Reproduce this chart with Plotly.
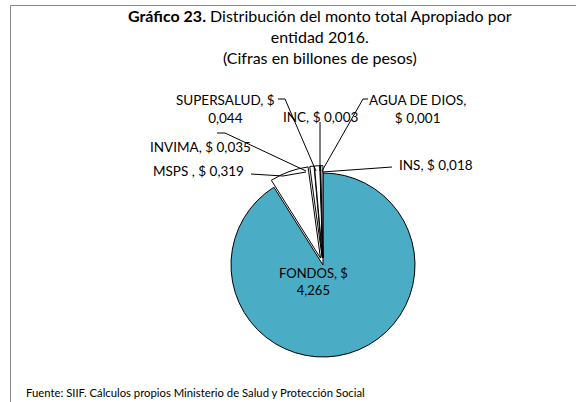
import plotly.graph_objects as go

# ---- data ----
entities = ["FONDOS", "MSPS", "INVIMA", "SUPERSALUD", "INC", "AGUA DE DIOS", "INS"]
values = [4.265, 0.319, 0.035, 0.044, 0.003, 0.001, 0.018]
label_fmt = ["{n}, $<br>{v}", "{n} , $ {v}", "{n}, $ {v}", "{n}, $<br>{v}",
             "{n}, $ {v}", "{n},<br>$ {v}", "{n}, $ {v}"]
title_lines = ["<b>Gráfico 23.</b> Distribución del monto total Apropiado por",
               "entidad 2016.", "(Cifras en billones de pesos)"]
source_text = "Fuente: SIIF. Cálculos propios Ministerio de Salud y Protección Social"

# ---- styles / layout ----
W, H = 576, 402
def px(x):
    return x / W
def py(y):
    return 1 - y / H

colors = ["#4BACC6"] + ["#FFFFFF"] * 6
pulls = [0] + [0.08] * 6
R = 92
cx, cy = 323, 265
half = R * (1 + max(pulls))

label_pos = [(313, 281), (198, 171), (200, 147), (225, 109.5), (320, 117), (417, 109.5), (436, 165)]
label_size = [13, 13.5, 13.5, 13.5, 13.5, 13.5, 13.5]
leaders = [
    None,
    [(251, 174), (283, 176), (306, 172)],
    [(217, 133), (225, 133), (306, 171)],
    [(278, 99), (285, 99), (316, 171)],
    [(320, 122), (320, 171)],
    [(368, 99), (363, 99), (322, 171)],
    [(392, 167), (322, 172)],
]

def fmt(v):
    return f"{v:.3f}".replace(".", ",")

fig = go.Figure(go.Pie(
    labels=entities, values=values, sort=False, direction="clockwise", rotation=0,
    marker=dict(colors=colors, line=dict(color="#000000", width=1)),
    pull=pulls, textinfo="none", hoverinfo="label+value", showlegend=False,
    domain=dict(x=[px(cx - half), px(cx + half)], y=[py(cy + half), py(cy - half)]),
))

FONT = "Lato"
annotations = []
for name, v, f, (lx, ly), fs in zip(entities, values, label_fmt, label_pos, label_size):
    annotations.append(dict(
        text=f.format(n=name, v=fmt(v)), x=px(lx), y=py(ly), xref="paper", yref="paper",
        showarrow=False, xanchor="center", yanchor="middle", align="center",
        font=dict(family=FONT, size=fs, color="#000000")))

annotations.append(dict(
    text="<br>".join(title_lines), x=px(320), y=py(36), xref="paper", yref="paper",
    showarrow=False, xanchor="center", yanchor="middle", align="center",
    font=dict(family=FONT, size=16, color="#000000")))
annotations.append(dict(
    text=source_text, x=px(24), y=py(392), xref="paper", yref="paper",
    showarrow=False, xanchor="left", yanchor="middle", align="left",
    font=dict(family=FONT, size=11.3, color="#000000")))

shapes = [dict(type="rect", xref="paper", yref="paper", x0=px(10.5), x1=1.2, y0=-0.2, y1=py(5.5),
               line=dict(color="#868686", width=1), fillcolor="rgba(0,0,0,0)")]
for pts in leaders:
    if not pts:
        continue
    path = "M " + " L ".join(f"{px(x)},{py(y)}" for x, y in pts)
    shapes.append(dict(type="path", xref="paper", yref="paper", path=path,
                       line=dict(color="#000000", width=1)))

fig.update_layout(
    width=W, height=H, margin=dict(l=0, r=0, t=0, b=0),
    paper_bgcolor="#FFFFFF", plot_bgcolor="#FFFFFF",
    annotations=annotations, shapes=shapes,
)

fig.write_html("out.html", config={"displayModeBar": False},
               post_script="document.body.style.margin='0';")
